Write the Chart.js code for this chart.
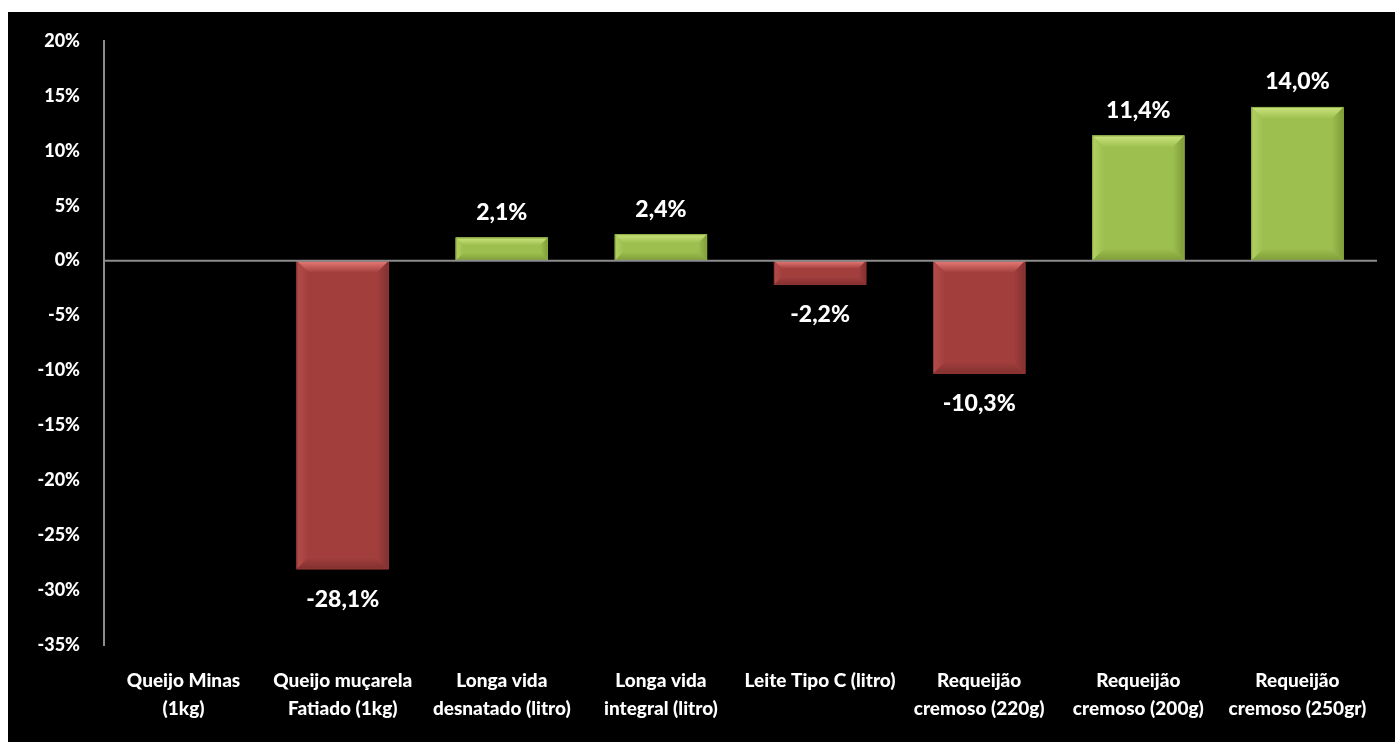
<!DOCTYPE html>
<html>
<head>
<meta charset="utf-8">
<script src="https://cdn.jsdelivr.net/npm/chart.js@4/dist/chart.umd.min.js"></script>
<style>
  html, body { margin: 0; padding: 0; background: #ffffff; }
  #wrap { position: absolute; left: 8px; top: 12px; width: 1387px; height: 730px; background: #000000; }
  canvas { display: block; }
</style>
</head>
<body>
<div id="wrap"><canvas id="chart" width="1387" height="730"></canvas></div>
<script>
// Price change by product (%)
const categories = [
  ["Queijo Minas", "(1kg)"],
  ["Queijo muçarela", "Fatiado (1kg)"],
  ["Longa vida", "desnatado (litro)"],
  ["Longa vida", "integral (litro)"],
  ["Leite Tipo C (litro)"],
  ["Requeijão", "cremoso (220g)"],
  ["Requeijão", "cremoso (200g)"],
  ["Requeijão", "cremoso (250gr)"]
];
const variation = [null, -28.1, 2.1, 2.4, -2.2, -10.3, 11.4, 14.0];
const yTicks = { min: -35, max: 20, step: 5 };

const GREEN = { base: "#9dbf4f", light: "#cde57f", side: "#b3d264", dark: "#7f9c38", edge: "#8aaa40" };
const RED   = { base: "#a23f3d", light: "#ea7d79", side: "#b44d4a", dark: "#823030", edge: "#8f3634" };
const palette = v => (v >= 0 ? GREEN : RED);

const FONT = "Lato, 'Open Sans', sans-serif";
const fmt = v => v.toFixed(1).replace(".", ",") + "%";

// Bevelled bar faces, lit from above
const bevelPlugin = {
  id: "bevel",
  afterDatasetsDraw(chart) {
    const ctx = chart.ctx;
    const meta = chart.getDatasetMeta(0);
    meta.data.forEach((bar, i) => {
      const v = variation[i];
      if (v === null || v === undefined) return;
      const c = palette(v);
      const left = bar.x - bar.width / 2, right = bar.x + bar.width / 2;
      const top = Math.min(bar.y, bar.base), bottom = Math.max(bar.y, bar.base);
      const h = bottom - top, w = right - left;
      const b = Math.min(12, h / 3, w / 3);
      ctx.save();
      // top face
      let g = ctx.createLinearGradient(0, top, 0, top + b);
      g.addColorStop(0, c.light); g.addColorStop(1, c.base);
      ctx.fillStyle = g;
      ctx.beginPath();
      ctx.moveTo(left, top); ctx.lineTo(right, top);
      ctx.lineTo(right - b, top + b); ctx.lineTo(left + b, top + b); ctx.closePath(); ctx.fill();
      // left face
      g = ctx.createLinearGradient(left, 0, left + b, 0);
      g.addColorStop(0, c.side); g.addColorStop(1, c.base);
      ctx.fillStyle = g;
      ctx.beginPath();
      ctx.moveTo(left, top); ctx.lineTo(left + b, top + b);
      ctx.lineTo(left + b, bottom - b); ctx.lineTo(left, bottom); ctx.closePath(); ctx.fill();
      // right face
      g = ctx.createLinearGradient(right, 0, right - b, 0);
      g.addColorStop(0, c.dark); g.addColorStop(1, c.base);
      ctx.fillStyle = g;
      ctx.beginPath();
      ctx.moveTo(right, top); ctx.lineTo(right - b, top + b);
      ctx.lineTo(right - b, bottom - b); ctx.lineTo(right, bottom); ctx.closePath(); ctx.fill();
      // bottom face
      g = ctx.createLinearGradient(0, bottom, 0, bottom - b);
      g.addColorStop(0, c.dark); g.addColorStop(1, c.base);
      ctx.fillStyle = g;
      ctx.beginPath();
      ctx.moveTo(left, bottom); ctx.lineTo(right, bottom);
      ctx.lineTo(right - b, bottom - b); ctx.lineTo(left + b, bottom - b); ctx.closePath(); ctx.fill();
      // outline
      ctx.strokeStyle = c.edge; ctx.lineWidth = 1;
      ctx.strokeRect(left + 0.5, top + 0.5, w - 1, h - 1);
      ctx.restore();
    });
  }
};

// Value labels above positive bars and below negative ones
const valueLabels = {
  id: "valueLabels",
  afterDraw(chart) {
    const ctx = chart.ctx;
    const meta = chart.getDatasetMeta(0);
    ctx.save();
    ctx.font = "900 23px " + FONT;
    ctx.fillStyle = "#ffffff";
    ctx.textAlign = "center";
    ctx.textBaseline = "middle";
    meta.data.forEach((bar, i) => {
      const v = variation[i];
      if (v === null || v === undefined) return;
      const y = v >= 0 ? bar.y - 25 : bar.y + 30;
      ctx.fillText(fmt(v), bar.x, y);
    });
    ctx.restore();
  }
};

// Zero line drawn over the bars
const zeroLine = {
  id: "zeroLine",
  afterDatasetsDraw(chart) {
    const { ctx, chartArea, scales } = chart;
    const y0 = scales.y.getPixelForValue(0);
    ctx.save();
    ctx.strokeStyle = "#8c8c8c";
    ctx.lineWidth = 2;
    ctx.beginPath();
    ctx.moveTo(chartArea.left, y0);
    ctx.lineTo(chartArea.right, y0);
    ctx.stroke();
    ctx.restore();
  }
};

new Chart(document.getElementById("chart"), {
  type: "bar",
  data: {
    labels: categories,
    datasets: [{
      data: variation,
      backgroundColor: variation.map(v => palette(v === null ? 0 : v).base),
      borderWidth: 0,
      barPercentage: 0.58,
      categoryPercentage: 1.0
    }]
  },
  options: {
    responsive: false,
    devicePixelRatio: 1,
    animation: false,
    layout: { padding: { top: 29, right: 18, bottom: 0, left: 0 } },
    plugins: { legend: { display: false }, tooltip: { enabled: false } },
    scales: {
      x: {
        grid: { display: false, drawTicks: false },
        border: { display: false },
        ticks: {
          color: "#ffffff",
          padding: 22,
          maxRotation: 0,
          autoSkip: false,
          font: { family: FONT, size: 19, weight: "900", lineHeight: 1.47 }
        },
        afterFit(scale) { scale.height = 97; scale.paddingLeft = 0; scale.paddingRight = 0; }
      },
      y: {
        min: yTicks.min,
        max: yTicks.max,
        grid: { display: false, drawTicks: false },
        border: { display: true, color: "#8c8c8c", width: 2 },
        ticks: {
          stepSize: yTicks.step,
          color: "#ffffff",
          padding: 24,
          font: { family: FONT, size: 18, weight: "900" },
          callback: v => v + "%"
        },
        afterFit(scale) { scale.width = 96; scale.paddingTop = 0; scale.paddingBottom = 0; }
      }
    }
  },
  plugins: [bevelPlugin, zeroLine, valueLabels]
});
</script>
</body>
</html>
